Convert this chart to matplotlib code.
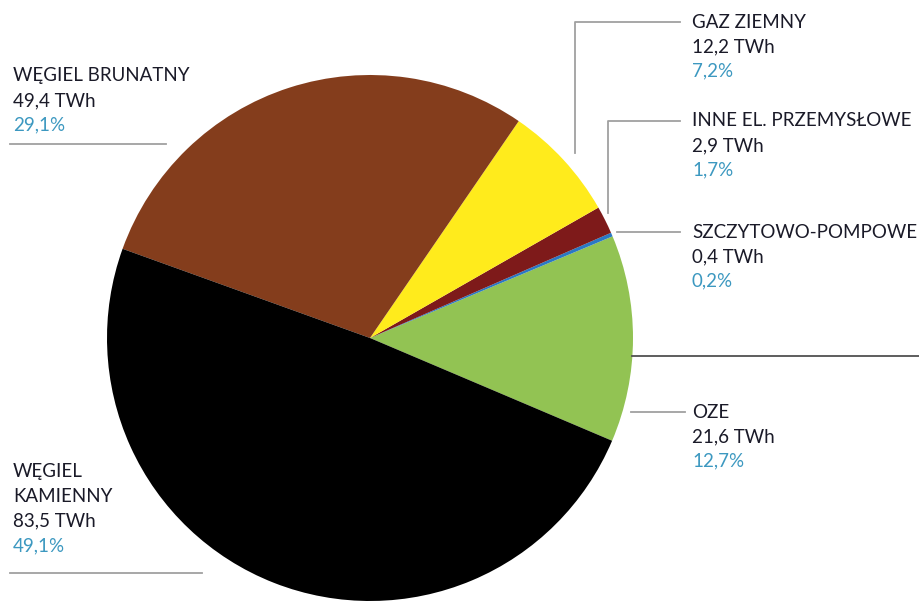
import matplotlib.pyplot as plt

# dane
labels = [['OZE'], ['SZCZYTOWO-POMPOWE'], ['INNE EL. PRZEMYSŁOWE'], ['GAZ ZIEMNY'],
          ['WĘGIEL BRUNATNY'], ['WĘGIEL', 'KAMIENNY']]
twh = [21.6, 0.4, 2.9, 12.2, 49.4, 83.5]
pct = ['12,7%', '0,2%', '1,7%', '7,2%', '29,1%', '49,1%']
colors = ['#92c353', '#2a78c4', '#7e1a1a', '#ffeb1c', '#843d1c', '#000000']

plt.rcParams['font.family'] = ['Lato', 'DejaVu Sans']

W, H = 920, 603
fig = plt.figure(figsize=(W / 100, H / 100), dpi=100)
ax = fig.add_axes([0, 0, 1, 1])

# koło
ax.pie(twh, colors=colors, startangle=-23, counterclock=True,
       center=(370, H - 338), radius=263,
       wedgeprops=dict(linewidth=0))
ax.set_xlim(0, W)
ax.set_ylim(0, H)
ax.set_aspect('equal')
ax.axis('off')

# pozycje etykiet (piksele od góry)
lab_pos = [(692, 412), (692, 232), (692, 121), (692, 22), (13, 76), (13, 472)]
gap = 24.5
fs = 13.5
txt_col = '#1a1a28'
pct_col = '#3c98c0'

for i in range(len(labels)):
    x, y = lab_pos[i]
    rows = labels[i] + [f'{twh[i]:.1f} TWh'.replace('.', ',')]
    for j, r in enumerate(rows):
        ax.text(x, H - (y + gap * j), r, fontsize=fs, color=txt_col,
                ha='left', va='center')
    ax.text(x, H - (y + gap * len(rows)), pct[i], fontsize=fs, color=pct_col,
            ha='left', va='center')

# linie odniesienia
lc = '#a0a0a0'
lw = 1.3
ax.plot([575, 575, 680], [H - 153, H - 22, H - 22], color=lc, lw=lw)
ax.plot([608, 608, 680], [H - 213, H - 121, H - 121], color=lc, lw=lw)
ax.plot([617, 680], [H - 232, H - 232], color=lc, lw=lw)
ax.plot([631, 685], [H - 412, H - 412], color=lc, lw=lw)
ax.plot([10, 166], [H - 144, H - 144], color=lc, lw=lw)
ax.plot([10, 202], [H - 573, H - 573], color=lc, lw=lw)
ax.plot([632, 920], [H - 356, H - 356], color='#505050', lw=1.3)

plt.savefig('out.png', dpi=100, facecolor='white')
